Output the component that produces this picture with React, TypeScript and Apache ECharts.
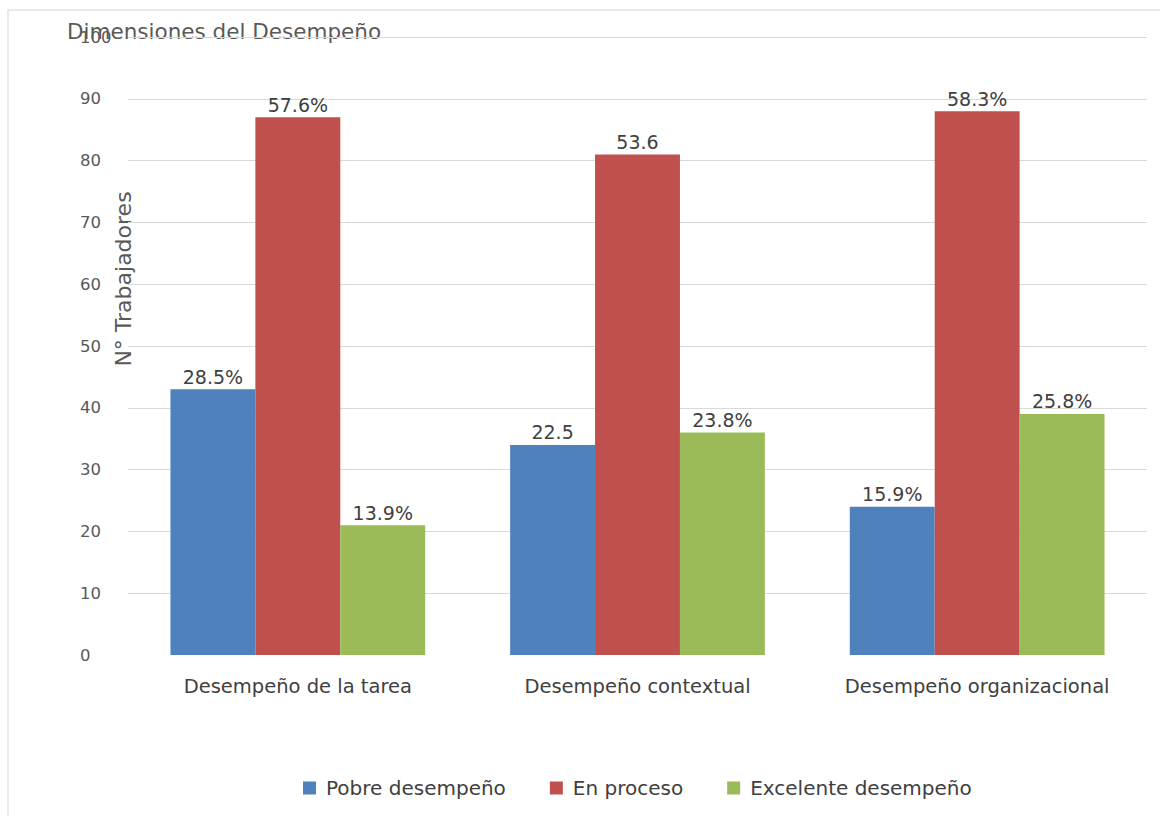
import React, { useEffect, useRef } from "react";
import * as echarts from "echarts";

const categories = ["Desempeño de la tarea", "Desempeño contextual", "Desempeño organizacional"];
const seriesNames = ["Pobre desempeño", "En proceso", "Excelente desempeño"];
const pobreValues = [43, 34, 24];
const procesoValues = [87, 81, 88];
const excelenteValues = [21, 36, 39];
const pobreLabels = ["28.5%", "22.5", "15.9%"];
const procesoLabels = ["57.6%", "53.6", "58.3%"];
const excelenteLabels = ["13.9%", "23.8%", "25.8%"];
const colors = ["#4F81BD", "#C0504D", "#9BBB59"];

const FONT = "'DejaVu Sans', 'Noto Sans', sans-serif";

export default function App() {
  const ref = useRef<HTMLDivElement>(null);
  useEffect(() => {
    document.body.style.margin = "0";
    const chart = echarts.init(ref.current!, null, { renderer: "svg" });
    const mk = (name: string, data: number[], labels: string[], color: string) => ({
      name,
      type: "bar",
      data,
      barGap: "0%",
      barCategoryGap: "25%",
      itemStyle: { color },
      label: {
        show: true,
        position: "top",
        distance: 3,
        color: "#404040",
        fontSize: 19,
        fontFamily: FONT,
        formatter: (p: any) => labels[p.dataIndex],
      },
    });
    const gridColors = ["rgba(0,0,0,0)"];
    for (let i = 0; i < 10; i++) gridColors.push("#d9d9d9");
    chart.setOption({
      animation: false,
      backgroundColor: "#ffffff",
      textStyle: { fontFamily: FONT },
      grid: { left: 128, right: 13, top: 37, bottom: 161 },
      xAxis: {
        type: "category",
        data: categories,
        axisLine: { show: false },
        axisTick: { show: false },
        axisLabel: { color: "#404040", fontSize: 19.5, fontFamily: FONT, margin: 21, interval: 0, hideOverlap: false },
      },
      yAxis: {
        type: "value",
        min: 0,
        max: 100,
        interval: 10,
        axisLine: { show: false },
        axisTick: { show: false },
        axisLabel: { color: "#595959", fontSize: 16.5, fontFamily: FONT, align: "left", margin: 48 },
        splitLine: { lineStyle: { color: gridColors, width: 1 } },
      },
      legend: {
        left: 298,
        top: 773,
        itemWidth: 13,
        itemHeight: 13,
        itemGap: 44,
        icon: "rect",
        textStyle: { color: "#404040", fontSize: 20, fontFamily: FONT, padding: [0, 0, 0, 5] },
        data: seriesNames,
      },
      graphic: [
        {
          type: "rect",
          shape: { x: 8, y: 10, width: 1170, height: 830 },
          style: { fill: "none", stroke: "#e4e4e4", lineWidth: 1.5 },
          silent: true,
        },
        {
          type: "text",
          x: 67,
          y: 31,
          style: {
            text: "Dimensiones del Desempeño",
            fill: "#595959",
            fontSize: 21.5,
            fontFamily: FONT,
            textVerticalAlign: "middle",
          },
        },
        {
          type: "text",
          x: 123,
          y: 279,
          rotation: Math.PI / 2,
          style: {
            text: "N° Trabajadores",
            fill: "#595959",
            fontSize: 22,
            fontFamily: FONT,
            textAlign: "center",
            textVerticalAlign: "middle",
          },
        },
      ],
      series: [
        mk(seriesNames[0], pobreValues, pobreLabels, colors[0]),
        mk(seriesNames[1], procesoValues, procesoLabels, colors[1]),
        mk(seriesNames[2], excelenteValues, excelenteLabels, colors[2]),
      ],
    });
    return () => chart.dispose();
  }, []);
  return <div ref={ref} style={{ width: 1160, height: 816 }} />;
}
